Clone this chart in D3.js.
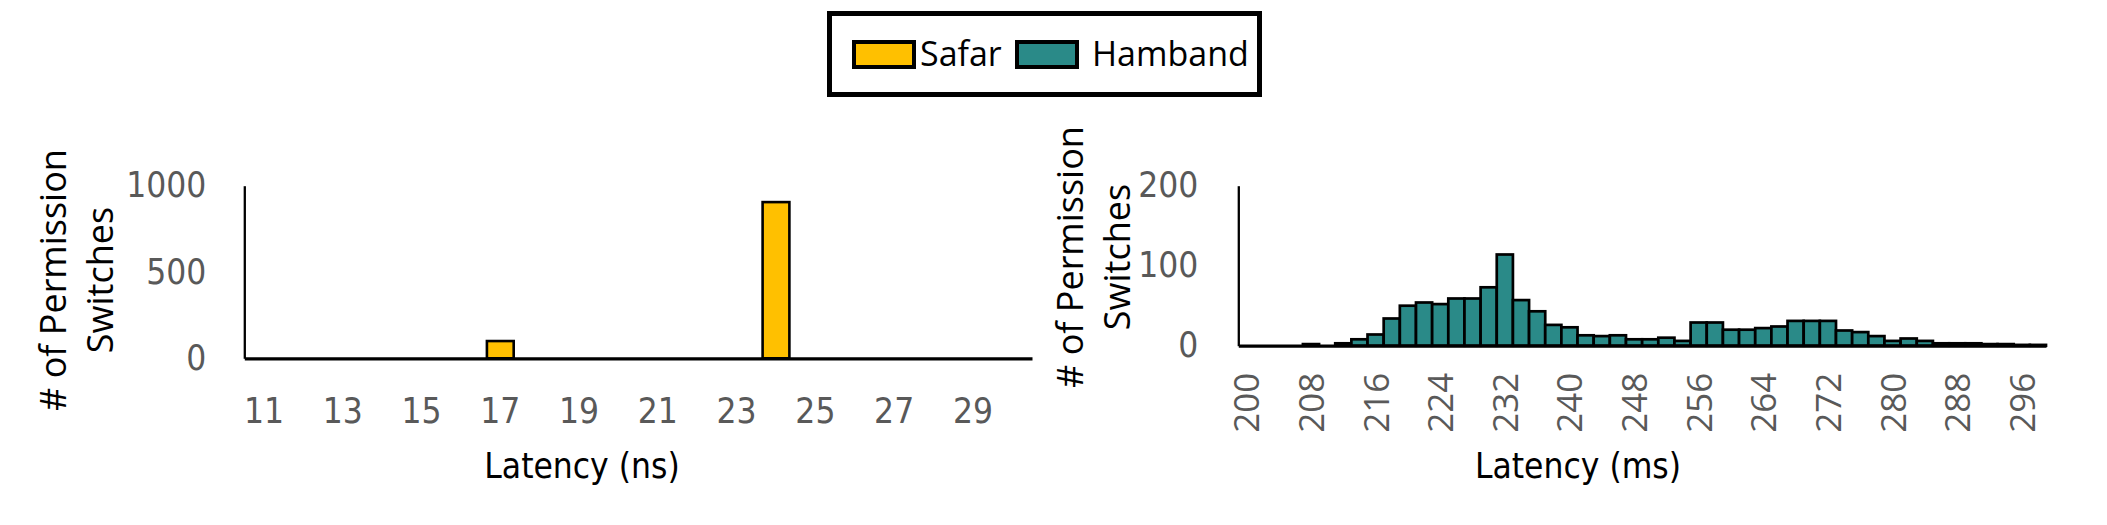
<!DOCTYPE html>
<html>
<head>
<meta charset="utf-8">
<script src="https://cdn.jsdelivr.net/npm/d3@7"></script>
<style>
  body { margin: 0; background: #fff; }
  svg { display: block; }
</style>
</head>
<body>
<div id="chart-wrap"></div>
<script>
// data
const safarLatency = [11, 12, 13, 14, 15, 16, 17, 18, 19, 20, 21, 22, 23, 24, 25, 26, 27, 28, 29, 30];
const safarCounts  = [0, 0, 0, 0, 0, 0, 100, 0, 0, 0, 0, 0, 0, 905, 0, 0, 0, 0, 0, 0];
const safarTicks   = [11, 13, 15, 17, 19, 21, 23, 25, 27, 29];
const safarYTicks  = [0, 500, 1000];

const hambandLatency = [200, 202, 204, 206, 208, 210, 212, 214, 216, 218,
                        220, 222, 224, 226, 228, 230, 232, 234, 236, 238,
                        240, 242, 244, 246, 248, 250, 252, 254, 256, 258,
                        260, 262, 264, 266, 268, 270, 272, 274, 276, 278,
                        280, 282, 284, 286, 288, 290, 292, 294, 296, 298];
const hambandCounts  = [0, 0, 0, 0, 2, 0, 3, 8, 14, 34,
                        50, 54, 52, 59, 59, 73, 114, 57, 43, 26,
                        23, 13, 12, 13, 8, 8, 10, 6, 29, 29,
                        20, 20, 22, 24, 31, 31, 31, 19, 17, 12,
                        6, 9, 6, 3, 3, 3, 2, 2, 1, 1];
const hambandTicks   = [200, 208, 216, 224, 232, 240, 248, 256, 264, 272, 280, 288, 296];
const hambandYTicks  = [0, 100, 200];

const seriesNames  = ["Safar", "Hamband"];
const seriesColors = ["#FFC000", "#2A8A88"];

const width = 2107;
const height = 525;
const NARROW = "'Liberation Sans Narrow', 'DejaVu Sans Condensed', 'Arial Narrow', sans-serif";
const WIDE = "'Open Sans', 'Noto Sans', sans-serif";
const GREY = "#595959";

const svg = d3.select("#chart-wrap")
  .append("svg")
  .attr("width", width)
  .attr("height", height);

function buildPanel(opts) {
  const x = d3.scaleBand()
    .domain(opts.cats)
    .range([opts.left, opts.right])
    .paddingInner(opts.pad)
    .paddingOuter(opts.pad / 2);

  const y = d3.scaleLinear()
    .domain([0, opts.yMax])
    .range([opts.base, opts.top]);

  const g = svg.append("g");

  // bars
  g.append("g")
    .selectAll("rect")
    .data(opts.cats.map((c, i) => ({cat: c, val: opts.vals[i]})))
    .join("rect")
    .attr("x", d => x(d.cat))
    .attr("width", x.bandwidth())
    .attr("y", d => y(d.val))
    .attr("height", d => y(0) - y(d.val))
    .attr("fill", opts.color)
    .attr("stroke", "#000")
    .attr("stroke-width", opts.barStroke);

  // y axis
  const yAxis = g.append("g")
    .attr("transform", `translate(${opts.left},0)`)
    .call(d3.axisLeft(y).tickValues(opts.yTicks).tickFormat(d3.format("d"))
      .tickSize(0).tickSizeOuter(0).tickPadding(opts.yPad));
  yAxis.select(".domain").attr("stroke", "#000").attr("stroke-width", 2.3);
  yAxis.selectAll("text")
    .attr("fill", GREY)
    .style("font-family", NARROW)
    .style("font-size", "35px");

  // x axis
  const xAxis = g.append("g")
    .attr("transform", `translate(0,${opts.base})`)
    .call(d3.axisBottom(x).tickValues(opts.xTicks).tickSize(0).tickSizeOuter(0));
  xAxis.select(".domain").attr("stroke", "#000").attr("stroke-width", 3.3);
  const xt = xAxis.selectAll("text").attr("fill", GREY);
  if (opts.rotate) {
    xt.attr("transform", "rotate(-90)")
      .attr("text-anchor", "end")
      .attr("x", -27)
      .attr("y", 13)
      .attr("dy", null)
      .style("font-family", WIDE)
      .style("font-size", "35px");
  } else {
    xt.attr("y", 65)
      .attr("dy", null)
      .style("font-family", NARROW)
      .style("font-size", "35px");
  }

  // axis titles
  g.append("text")
    .attr("x", opts.xTitleX)
    .attr("y", 478)
    .attr("text-anchor", "middle")
    .style("font-family", NARROW)
    .style("font-size", "35px")
    .text(opts.xTitle);

  const yt = g.append("text")
    .attr("transform", `translate(${opts.yTitleX},${opts.yTitleY}) rotate(-90)`)
    .attr("text-anchor", "middle")
    .style("font-family", WIDE)
    .style("font-size", "36px");
  yt.append("tspan").attr("x", 0).attr("dy", 0).text("# of Permission");
  yt.append("tspan").attr("x", 0).attr("dy", 47).text("Switches");
}

buildPanel({
  cats: safarLatency, vals: safarCounts, xTicks: safarTicks, yTicks: safarYTicks,
  yMax: 1000, left: 244.3, right: 1032, top: 185.7, base: 358.3, pad: 0.32,
  color: seriesColors[0], barStroke: 2.6, yPad: 38, rotate: false,
  xTitle: "Latency (ns)", xTitleX: 582, yTitleX: 66, yTitleY: 280
});

buildPanel({
  cats: hambandLatency, vals: hambandCounts, xTicks: hambandTicks, yTicks: hambandYTicks,
  yMax: 200, left: 1238.3, right: 2046, top: 185.7, base: 345.7, pad: 0,
  color: seriesColors[1], barStroke: 2.7, yPad: 40, rotate: true,
  xTitle: "Latency (ms)", xTitleX: 1578, yTitleX: 1083, yTitleY: 257
});

// legend
const legend = svg.append("g");
legend.append("rect")
  .attr("x", 829.5).attr("y", 13.5)
  .attr("width", 430).attr("height", 81)
  .attr("fill", "#fff").attr("stroke", "#000").attr("stroke-width", 5);

const swatchX = [854, 1017];
const labelX = [920, 1092];
seriesNames.forEach((name, i) => {
  legend.append("rect")
    .attr("x", swatchX[i]).attr("y", 42)
    .attr("width", 60).attr("height", 25)
    .attr("fill", seriesColors[i]).attr("stroke", "#000").attr("stroke-width", 4);
  legend.append("text")
    .attr("x", labelX[i]).attr("y", 66)
    .style("font-family", WIDE)
    .style("font-size", "34px")
    .text(name);
});
</script>
</body>
</html>
